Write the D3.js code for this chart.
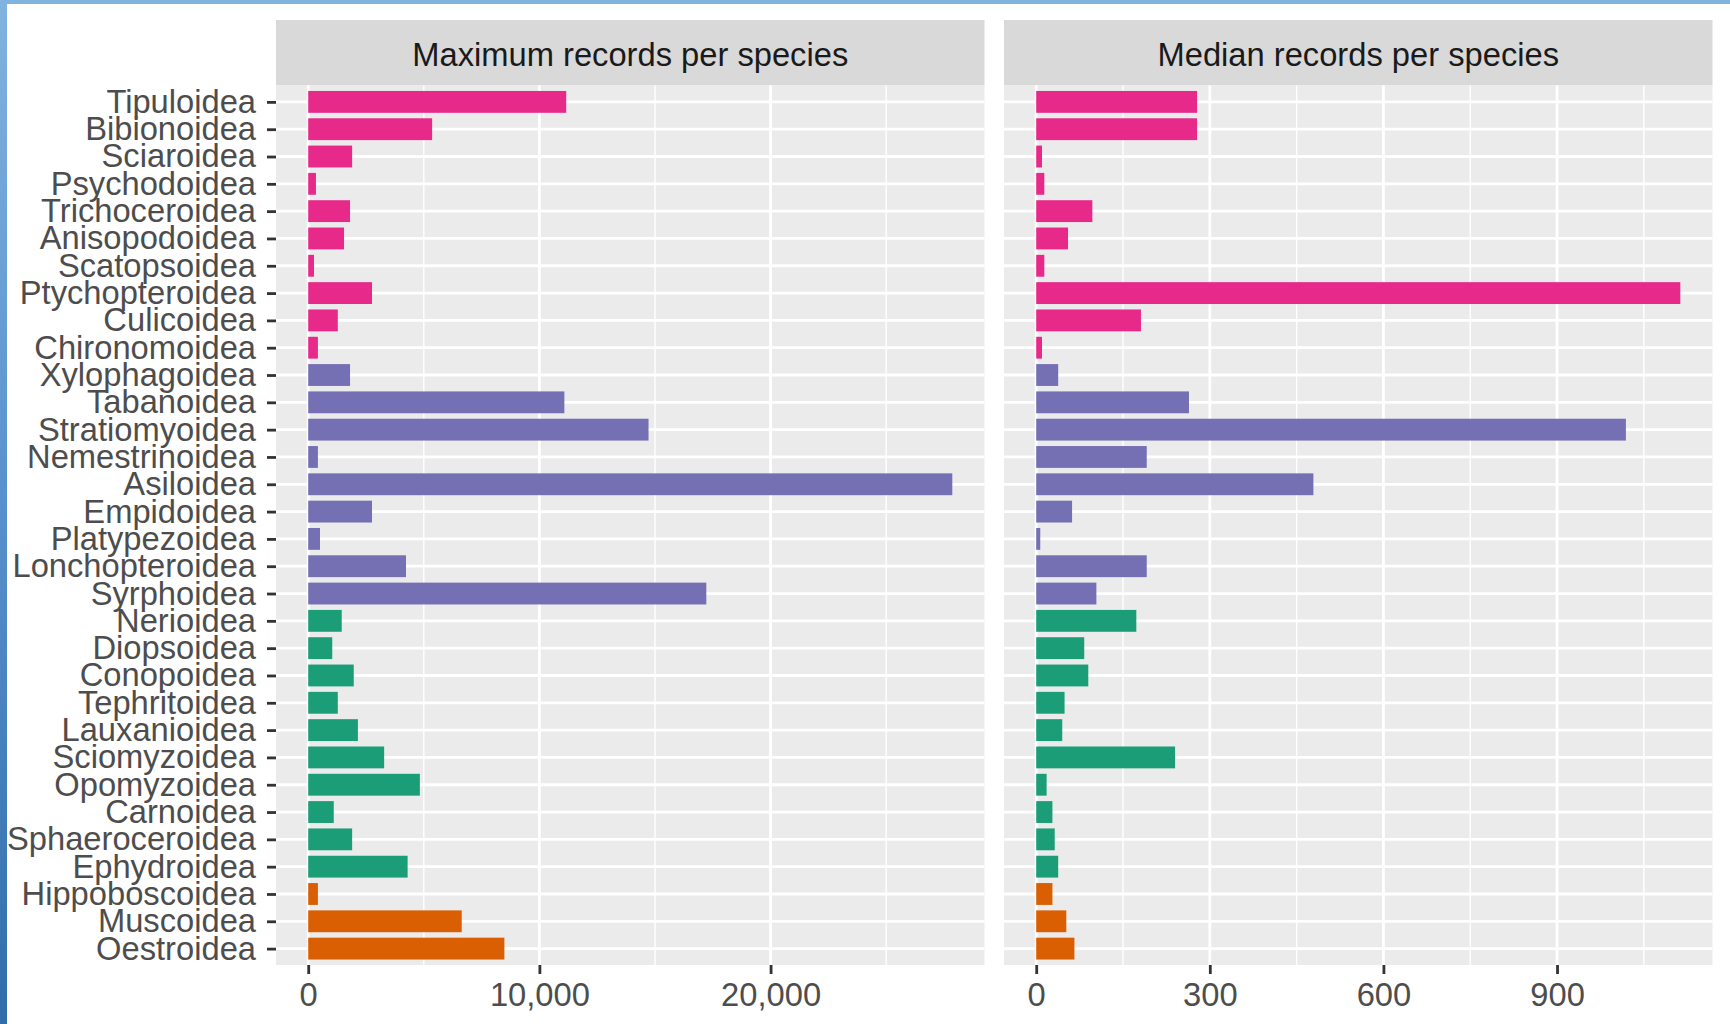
<!DOCTYPE html>
<html>
<head>
<meta charset="utf-8">
<script src="https://cdn.jsdelivr.net/npm/d3@7"></script>
<style>
  html, body { margin: 0; padding: 0; background: #ffffff; }
  svg { display: block; }
  text { font-family: "Liberation Sans", Arial, sans-serif; }
</style>
</head>
<body>
<svg id="chart" width="1730" height="1024"></svg>
<script>
// Diptera superfamilies, top to bottom
const superfamilies = [
  "Tipuloidea", "Bibionoidea", "Sciaroidea", "Psychodoidea", "Trichoceroidea",
  "Anisopodoidea", "Scatopsoidea", "Ptychopteroidea", "Culicoidea", "Chironomoidea",
  "Xylophagoidea", "Tabanoidea", "Stratiomyoidea", "Nemestrinoidea", "Asiloidea",
  "Empidoidea", "Platypezoidea", "Lonchopteroidea", "Syrphoidea", "Nerioidea",
  "Diopsoidea", "Conopoidea", "Tephritoidea", "Lauxanioidea", "Sciomyzoidea",
  "Opomyzoidea", "Carnoidea", "Sphaeroceroidea", "Ephydroidea", "Hippoboscoidea",
  "Muscoidea", "Oestroidea"
];

// Grouping used for bar colour
const lineage = [
  "Nematocera", "Nematocera", "Nematocera", "Nematocera", "Nematocera",
  "Nematocera", "Nematocera", "Nematocera", "Nematocera", "Nematocera",
  "Brachycera", "Brachycera", "Brachycera", "Brachycera", "Brachycera",
  "Brachycera", "Brachycera", "Brachycera", "Brachycera", "Acalyptratae",
  "Acalyptratae", "Acalyptratae", "Acalyptratae", "Acalyptratae", "Acalyptratae",
  "Acalyptratae", "Acalyptratae", "Acalyptratae", "Acalyptratae", "Calyptratae",
  "Calyptratae", "Calyptratae"
];

// Maximum number of records for any species in the superfamily
const maxRecords = [
  11160, 5360, 1900, 335, 1810,
  1550, 250, 2760, 1280, 420,
  1810, 11080, 14720, 420, 27860,
  2760, 510, 4230, 17220, 1450,
  1040, 1970, 1280, 2150, 3285,
  4830, 1105, 1900, 4300, 420,
  6640, 8485
];

// Median number of records per species in the superfamily
const medianRecords = [
  278, 278, 10, 14, 97,
  55, 14, 1113, 181, 10,
  38, 264, 1019, 191, 479,
  62, 7, 191, 104, 173,
  83, 90, 49, 45, 240,
  18, 28, 32, 38, 28,
  52, 66
];

const facetTitles = ["Maximum records per species", "Median records per species"];
const maxTicks = [0, 10000, 20000];
const maxMinorTicks = [5000, 15000, 25000];
const medianTicks = [0, 300, 600, 900];
const medianMinorTicks = [150, 450, 750, 1050];

const lineageColours = {
  "Nematocera": "#E7298A",
  "Brachycera": "#7570B3",
  "Acalyptratae": "#1B9E77",
  "Calyptratae": "#D95F02"
};

const svg = d3.select("#chart");

// window frame
const defs = svg.append("defs");
const grad = defs.append("linearGradient")
  .attr("id", "frameGrad").attr("x1", 0).attr("y1", 0).attr("x2", 0).attr("y2", 1);
grad.append("stop").attr("offset", "0%").attr("stop-color", "#80B3E0");
grad.append("stop").attr("offset", "50%").attr("stop-color", "#5790CB");
grad.append("stop").attr("offset", "100%").attr("stop-color", "#326DAB");
svg.append("rect").attr("x", 0).attr("y", 0).attr("width", 1730).attr("height", 4).attr("fill", "#80B3E0");
svg.append("rect").attr("x", 0).attr("y", 0).attr("width", 7).attr("height", 1024).attr("fill", "url(#frameGrad)");

const stripTop = 20, stripBottom = 85.5;
const panelTop = 85.5, panelBottom = 965;
const panels = [
  { x0: 276, x1: 984.5, values: maxRecords, ticks: maxTicks, minor: maxMinorTicks, title: facetTitles[0] },
  { x0: 1004, x1: 1712.5, values: medianRecords, ticks: medianTicks, minor: medianMinorTicks, title: facetTitles[1] }
];

const y = d3.scalePoint()
  .domain(superfamilies)
  .range([panelTop, panelBottom])
  .padding(0.6);
const barH = y.step() * 0.8;

const rows = superfamilies.map((s, i) => ({ name: s, group: lineage[i], i }));

panels.forEach((p, pi) => {
  const vmax = d3.max(p.values);
  const x = d3.scaleLinear()
    .domain([-0.05 * vmax, 1.05 * vmax])
    .range([p.x0, p.x1]);

  const g = svg.append("g");

  // strip
  g.append("rect")
    .attr("x", p.x0).attr("y", stripTop)
    .attr("width", p.x1 - p.x0).attr("height", stripBottom - stripTop)
    .attr("fill", "#D9D9D9");
  g.append("text")
    .attr("x", (p.x0 + p.x1) / 2).attr("y", 65.5)
    .attr("text-anchor", "middle")
    .attr("font-size", 32.7)
    .attr("fill", "#1A1A1A")
    .text(p.title);

  // panel background
  g.append("rect")
    .attr("x", p.x0).attr("y", panelTop)
    .attr("width", p.x1 - p.x0).attr("height", panelBottom - panelTop)
    .attr("fill", "#EBEBEB");

  // minor grid
  g.selectAll(".minor").data(p.minor).join("line")
    .attr("x1", d => x(d)).attr("x2", d => x(d))
    .attr("y1", panelTop).attr("y2", panelBottom)
    .attr("stroke", "#ffffff").attr("stroke-width", 1.4);
  // major grid
  g.selectAll(".vmajor").data(p.ticks).join("line")
    .attr("x1", d => x(d)).attr("x2", d => x(d))
    .attr("y1", panelTop).attr("y2", panelBottom)
    .attr("stroke", "#ffffff").attr("stroke-width", 2.8);
  g.selectAll(".hmajor").data(superfamilies).join("line")
    .attr("x1", p.x0).attr("x2", p.x1)
    .attr("y1", d => y(d)).attr("y2", d => y(d))
    .attr("stroke", "#ffffff").attr("stroke-width", 2.8);

  // bars
  g.selectAll(".bar").data(rows).join("rect")
    .attr("x", x(0))
    .attr("y", d => y(d.name) - barH / 2)
    .attr("width", d => x(p.values[d.i]) - x(0))
    .attr("height", barH)
    .attr("fill", d => lineageColours[d.group]);

  // x axis
  const xAxis = d3.axisBottom(x)
    .tickValues(p.ticks)
    .tickSize(9)
    .tickPadding(9)
    .tickFormat(d3.format(","));
  const ax = g.append("g")
    .attr("transform", `translate(0,${panelBottom})`)
    .call(xAxis);
  ax.select(".domain").remove();
  ax.selectAll(".tick line").attr("stroke", "#333333").attr("stroke-width", 2.8);
  ax.selectAll(".tick text")
    .attr("font-size", 32.7)
    .attr("fill", "#4D4D4D")
    .attr("font-family", "'Liberation Sans', Arial, sans-serif");

  // y axis on the left panel only
  if (pi === 0) {
    const yAxis = d3.axisLeft(y).tickSize(9).tickPadding(11);
    const ay = g.append("g")
      .attr("transform", `translate(${p.x0},0)`)
      .call(yAxis);
    ay.select(".domain").remove();
    ay.selectAll(".tick line").attr("stroke", "#333333").attr("stroke-width", 2.8);
    ay.selectAll(".tick text")
      .attr("font-size", 32.7)
      .attr("fill", "#4D4D4D")
      .attr("font-family", "'Liberation Sans', Arial, sans-serif");
  }
});
</script>
</body>
</html>
